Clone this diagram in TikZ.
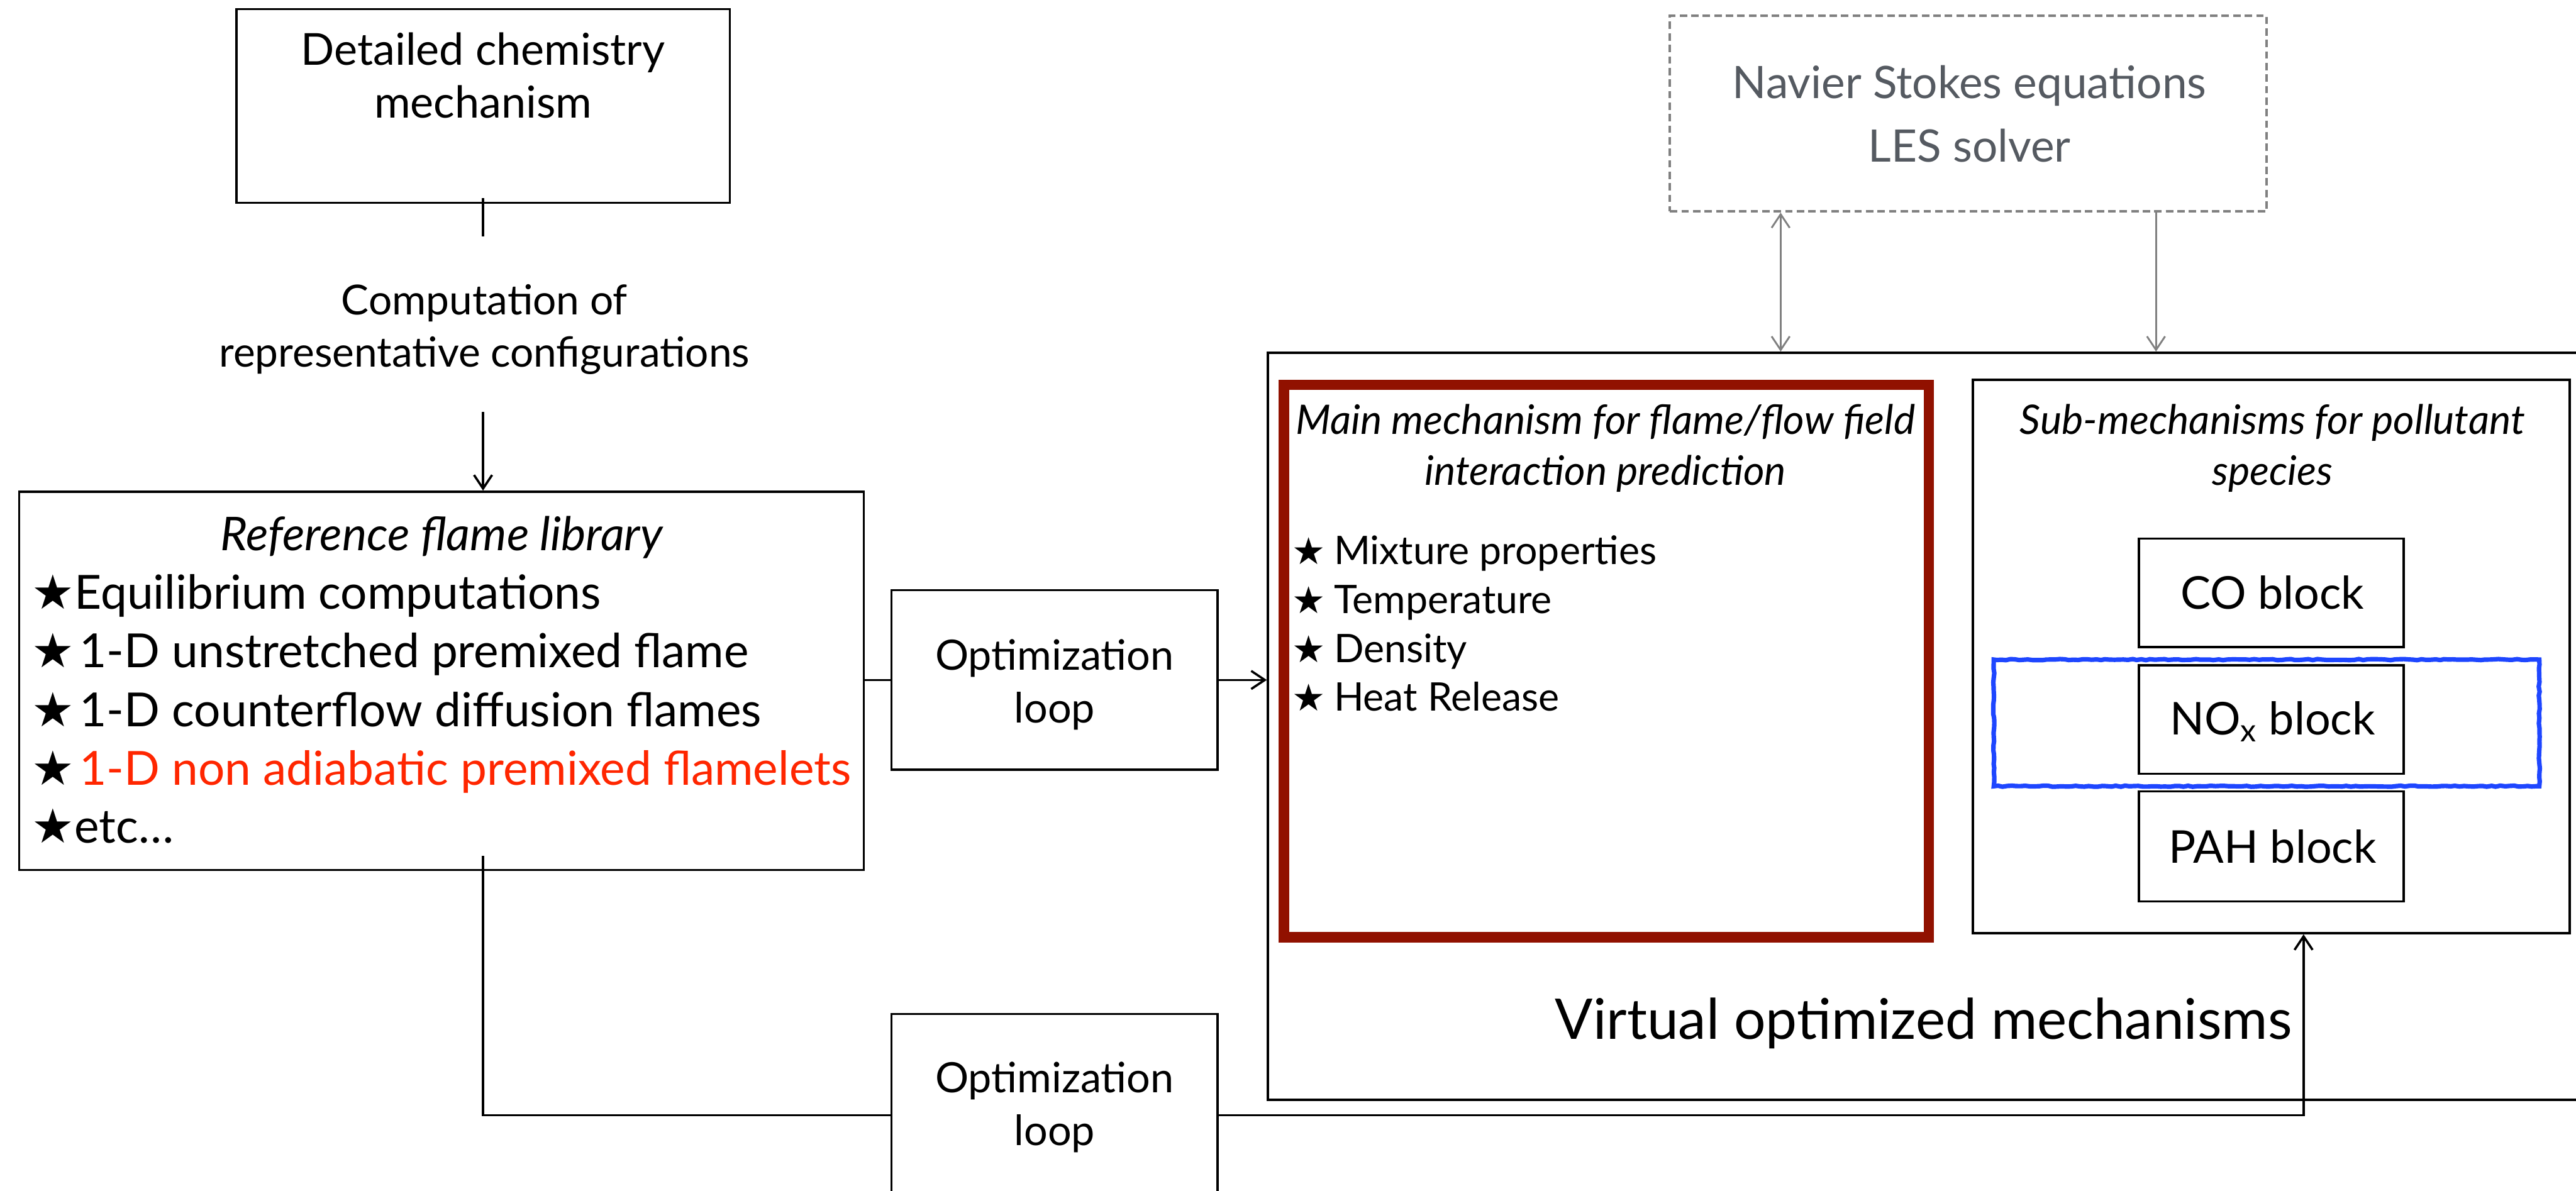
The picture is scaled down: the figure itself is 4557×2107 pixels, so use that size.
\documentclass[tikz,border=0pt]{standalone}
\usepackage{fontspec}
\setmainfont{Lato}
\newfontfamily\starfont{DejaVu Sans}
\usetikzlibrary{arrows.meta,decorations.pathmorphing}

\definecolor{flamered}{RGB}{255,38,0}
\definecolor{framered}{RGB}{145,17,0}
\definecolor{solvergray}{RGB}{85,90,97}
\definecolor{linkgray}{RGB}{128,128,128}
\definecolor{noxblue}{RGB}{30,70,255}

\newcommand{\itemstar}[1]{{\starfont\fontsize{#1}{#1}\selectfont ★}}

\begin{document}
\begin{tikzpicture}[x=0.25pt,y=-0.25pt,
  box/.style={draw, line width=1pt, inner sep=0pt},
  txt/.style={anchor=base, inner sep=0pt},
  txtl/.style={anchor=base west, inner sep=0pt},
  link/.style={line width=1pt},
  arr/.style={line width=1pt, -{Straight Barb[length=6pt,width=8pt,line width=1pt]}},
  garr/.style={line width=0.8pt, draw=linkgray, -{Straight Barb[length=6pt,width=8pt,line width=0.8pt]}},
  garrb/.style={line width=0.8pt, draw=linkgray, {Straight Barb[length=6pt,width=8pt,line width=0.8pt]}-{Straight Barb[length=6pt,width=8pt,line width=0.8pt]}},
  fchem/.style={font=\fontsize{19.5}{23}\selectfont},
  fcomp/.style={font=\fontsize{18.3}{22}\selectfont},
  flib/.style={font=\fontsize{20.8}{25}\selectfont},
  fopt/.style={font=\fontsize{18.5}{22}\selectfont},
  fsolver/.style={font=\fontsize{19.8}{24}\selectfont},
  fmain/.style={font=\fontsize{17.4}{21}\selectfont},
  fhead/.style={font=\fontsize{18}{22}\selectfont\itshape},
  fblock/.style={font=\fontsize{20}{24}\selectfont},
]
\useasboundingbox (0,0) rectangle (4557,2107);
\clip (0,0) rectangle (4557,2107);

% ---- left column -------------------------------------------------------
\node[box, minimum width=218.25pt, minimum height=85.75pt] (chem) at (854.5,187.5) {};
\node[txt, fchem] (chemA) at (854.5,115) {Detailed chemistry};
\node[txt, fchem] (chemB) at (854.5,209) {mechanism};

\coordinate (chemtail) at (854.5,418);
\draw[link] ([yshift=2.5pt]chem.south) -- (chemtail);

\node[txt, fcomp] (compA) at (857,557) {Computation of};
\node[txt, fcomp] (compB) at (857,649) {representative configurations};

\node[box, minimum width=373.5pt, minimum height=167.25pt] (lib) at (781,1204.5) {};
\coordinate (comphead) at (854.5,729);
\draw[arr] (comphead) -- (comphead |- lib.north);

\node[txt, font=\fontsize{20.6}{25}\selectfont\itshape] (libT) at (781,974) {Reference flame library};
\node[txtl] (s1) at (55,1078) {\itemstar{21}};
\node[txtl, flib] (l1) at (131,1078) {Equilibrium computations};
\node[txtl] (s2) at (55,1181) {\itemstar{21}};
\node[txtl, flib] (l2) at (140,1181) {1-D unstretched premixed flame};
\node[txtl] (s3) at (55,1285) {\itemstar{21}};
\node[txtl, flib] (l3) at (140,1285) {1-D counterflow diffusion flames};
\node[txtl] (s4) at (55,1389) {\itemstar{21}};
\node[txtl, flib, text=flamered] (l4) at (140,1389) {1-D non adiabatic premixed flamelets};
\node[txtl] (s5) at (55,1491) {\itemstar{21}};
\node[txtl, flib] (l5) at (131,1491) {etc\ldots};

% ---- optimization loops ----------------------------------------------------
\node[box, minimum width=144.25pt, minimum height=79.5pt] (opt1) at (1865.5,1203) {};
\node[txt, fopt] (opt1A) at (1865.5,1185) {Optimization};
\node[txt, fopt] (opt1B) at (1865.5,1279) {loop};

\node[box, minimum width=144.25pt, minimum height=89.5pt] (opt2) at (1865.5,1973) {};
\node[txt, fopt] (opt2A) at (1865.5,1933) {Optimization};
\node[txt, fopt] (opt2B) at (1865.5,2027) {loop};

% ---- solver ---------------------------------------------------------------
\node[draw=linkgray, line width=1.1pt, dash pattern=on 3.3pt off 1.8pt, inner sep=0pt,
      minimum width=264pt, minimum height=86.5pt] (ns) at (3482,201) {};
\node[txt, fsolver, text=solvergray] (nsA) at (3484,174) {Navier Stokes equations};
\node[txt, fsolver, text=solvergray] (nsB) at (3484,286) {LES solver};

% ---- virtual optimized mechanisms -----------------------------------------
\node[box, minimum width=594.25pt, minimum height=330.5pt] (virt) at (3431.5,1285) {};
\node[txt, font=\fontsize{24.8}{30}\selectfont] (virtT) at (3403,1838) {Virtual optimized mechanisms};

\node[draw=framered, line width=4.6pt, inner sep=0pt,
      minimum width=285.25pt, minimum height=244.25pt] (main) at (2841.5,1169.5) {};
\node[txt, fhead] (mainA) at (2840,768) {Main mechanism for flame/flow field};
\node[txt, fhead] (mainB) at (2840,858) {interaction prediction};
\node[txtl] (m1s) at (2285,999) {\itemstar{16.5}};
\node[txtl, fmain] (m1) at (2359,999) {Mixture properties};
\node[txtl] (m2s) at (2285,1085) {\itemstar{16.5}};
\node[txtl, fmain] (m2) at (2359,1085) {Temperature};
\node[txtl] (m3s) at (2285,1172) {\itemstar{16.5}};
\node[txtl, fmain] (m3) at (2359,1172) {Density};
\node[txtl] (m4s) at (2285,1258) {\itemstar{16.5}};
\node[txtl, fmain] (m4) at (2359,1258) {Heat Release};

\node[box, minimum width=264pt, minimum height=244.75pt] (sub) at (4018,1161.5) {};
\node[txt, fhead] (subA) at (4020,768) {Sub-mechanisms for pollutant};
\node[txt, fhead] (subB) at (4020,858) {species};

\node[box, minimum width=117pt, minimum height=48pt] (co) at (4018,1049) {};
\node[txt, fblock] (coT) at (4020,1078) {CO block};
\node[box, minimum width=117pt, minimum height=48pt] (nox) at (4018,1273) {};
\node[txt, fblock] (noxT) at (4020,1300) {NO\textsubscript{x} block};
\node[box, minimum width=117pt, minimum height=48.75pt] (pah) at (4018,1497.5) {};
\node[txt, fblock] (pahT) at (4020,1527) {PAH block};

\node[draw=noxblue, line width=2pt, inner sep=0pt,
      decorate, decoration={random steps, segment length=2pt, amplitude=0.25pt},
      minimum width=241.25pt, minimum height=56pt] (blue) at (4009.5,1279) {};

% ---- connectors -------------------------------------------------------------
\draw[link] (opt1.west -| lib.east) -- (opt1.west);
\draw[arr] (opt1.east) -- (opt1.east -| virt.west);

\coordinate (libtail) at (854.5,1514);
\draw[link] (libtail) |- (opt2.west);
\draw[arr] (opt2.east) -| ([xshift=14.25pt]sub.south);

\draw[garrb] ([xshift=-83pt]ns.south) -- ([xshift=-83pt]ns.south |- virt.north);
\draw[garr] ([xshift=83pt]ns.south) -- ([xshift=83pt]ns.south |- virt.north);
\end{tikzpicture}
\end{document}
